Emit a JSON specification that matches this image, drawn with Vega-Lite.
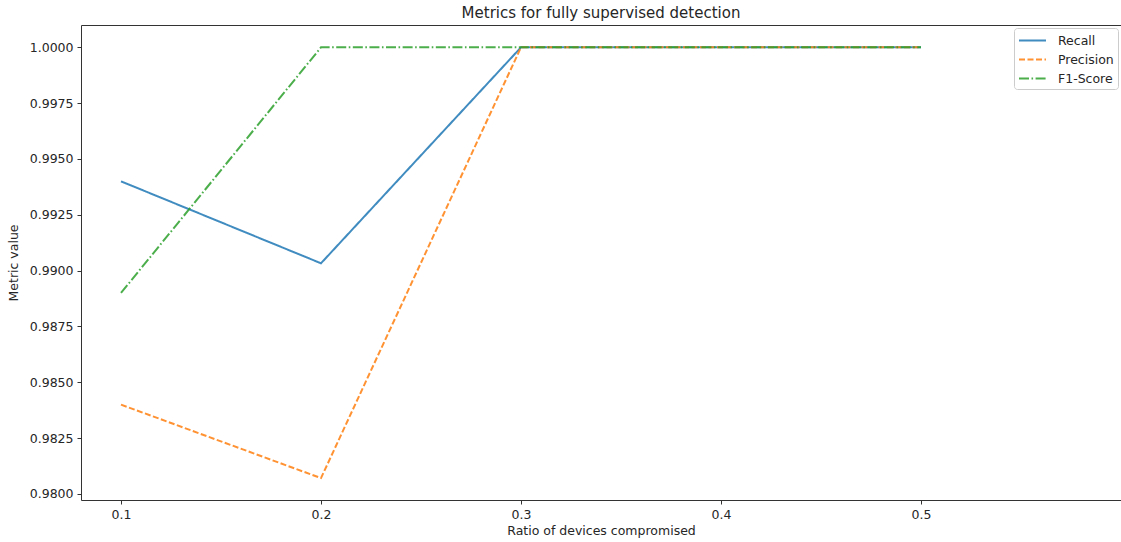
{
  "$schema": "https://vega.github.io/schema/vega-lite/v6.json",
  "width": 1040,
  "height": 475,
  "autosize": {"type": "none"},
  "padding": {"left": 81, "top": 25, "right": 0, "bottom": 42},
  "background": "white",
  "title": {
    "text": "Metrics for fully supervised detection",
    "font": "DejaVu Sans",
    "fontSize": 15,
    "fontWeight": "normal",
    "color": "#262626",
    "anchor": "middle",
    "offset": 4
  },
  "config": {
    "view": {"stroke": "#333", "strokeWidth": 1},
    "font": "DejaVu Sans"
  },
  "data": {
    "values": [
      {"ratio": 0.1, "metric": "Recall", "value": 0.9940},
      {"ratio": 0.2, "metric": "Recall", "value": 0.99033},
      {"ratio": 0.3, "metric": "Recall", "value": 1.0},
      {"ratio": 0.4, "metric": "Recall", "value": 1.0},
      {"ratio": 0.5, "metric": "Recall", "value": 1.0},
      {"ratio": 0.1, "metric": "Precision", "value": 0.9840},
      {"ratio": 0.2, "metric": "Precision", "value": 0.98071},
      {"ratio": 0.3, "metric": "Precision", "value": 1.0},
      {"ratio": 0.4, "metric": "Precision", "value": 1.0},
      {"ratio": 0.5, "metric": "Precision", "value": 1.0},
      {"ratio": 0.1, "metric": "F1-Score", "value": 0.9890},
      {"ratio": 0.2, "metric": "F1-Score", "value": 1.0},
      {"ratio": 0.3, "metric": "F1-Score", "value": 1.0},
      {"ratio": 0.4, "metric": "F1-Score", "value": 1.0},
      {"ratio": 0.5, "metric": "F1-Score", "value": 1.0}
    ]
  },
  "mark": {"type": "line", "strokeWidth": 2, "strokeOpacity": 0.85, "clip": true},
  "encoding": {
    "x": {
      "field": "ratio",
      "type": "quantitative",
      "scale": {"domain": [0.08, 0.6], "nice": false, "zero": false},
      "axis": {
        "title": "Ratio of devices compromised",
        "values": [0.1, 0.2, 0.3, 0.4, 0.5],
        "format": ".1f",
        "grid": false,
        "domain": false,
        "tickColor": "#333",
        "tickSize": 4,
        "labelFont": "DejaVu Sans",
        "labelFontSize": 12.5,
        "labelColor": "#262626",
        "labelPadding": 4,
        "titleFont": "DejaVu Sans",
        "titleFontSize": 12.5,
        "titleFontWeight": "normal",
        "titleColor": "#262626",
        "titlePadding": 4
      }
    },
    "y": {
      "field": "value",
      "type": "quantitative",
      "scale": {"domain": [0.97973, 1.001], "nice": false, "zero": false},
      "axis": {
        "title": "Metric value",
        "values": [0.98, 0.9825, 0.985, 0.9875, 0.99, 0.9925, 0.995, 0.9975, 1.0],
        "format": ".4f",
        "grid": false,
        "domain": false,
        "tickColor": "#333",
        "tickSize": 4,
        "labelFont": "DejaVu Sans",
        "labelFontSize": 12.5,
        "labelColor": "#262626",
        "labelPadding": 4,
        "titleFont": "DejaVu Sans",
        "titleFontSize": 12.5,
        "titleFontWeight": "normal",
        "titleColor": "#262626",
        "titlePadding": 9
      }
    },
    "color": {
      "field": "metric",
      "type": "nominal",
      "sort": ["Recall", "Precision", "F1-Score"],
      "scale": {"domain": ["Recall", "Precision", "F1-Score"], "range": ["#1f77b4", "#ff7f0e", "#2ca02c"]},
      "legend": {
        "title": null,
        "orient": "top-right",
        "offset": 3,
        "fillColor": "white",
        "strokeColor": "#cccccc",
        "cornerRadius": 3,
        "padding": 4,
        "symbolType": "M-1.8,0H1.8",
        "symbolSize": 225,
        "symbolOffset": 6,
        "symbolStrokeWidth": 2,
        "symbolOpacity": 0.85,
        "labelFont": "DejaVu Sans",
        "labelFontSize": 12.5,
        "labelColor": "#262626",
        "labelOffset": 17,
        "rowPadding": 4
      }
    },
    "strokeDash": {
      "field": "metric",
      "type": "nominal",
      "sort": ["Recall", "Precision", "F1-Score"],
      "scale": {"domain": ["Recall", "Precision", "F1-Score"], "range": [[1, 0], [6, 2.5], [10, 2.5, 1.6, 2.5]]}
    }
  }
}
